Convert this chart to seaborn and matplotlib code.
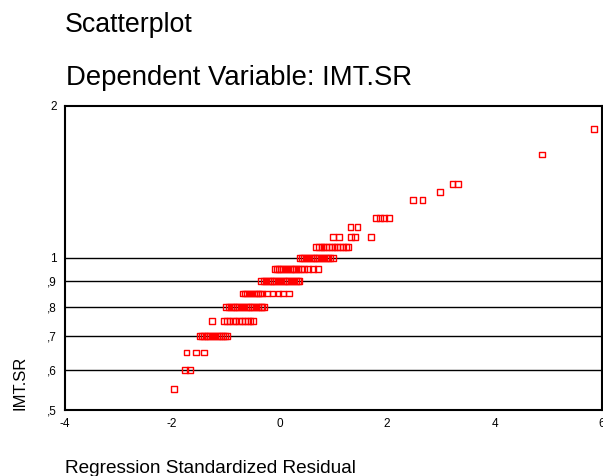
import matplotlib
matplotlib.use("Agg")
import matplotlib.pyplot as plt
import matplotlib.ticker as mticker
import seaborn as sns
import pandas as pd

# ---- data ----
res_055 = [-1.96]
res_060 = [-1.76, -1.67]
res_065 = [-1.73, -1.56, -1.41]
res_070 = [-1.48, -1.44, -1.40, -1.36, -1.33, -1.29, -1.25, -1.21, -1.17, -1.13,
           -1.09, -1.05, -1.01, -0.98]
res_075 = [-1.26, -1.03, -0.98, -0.93, -0.87, -0.82, -0.76, -0.70, -0.64, -0.59,
           -0.54, -0.49]
res_080 = [-0.99, -0.95, -0.91, -0.87, -0.83, -0.79, -0.75, -0.71, -0.67, -0.63,
           -0.59, -0.55, -0.51, -0.47, -0.43, -0.39, -0.35, -0.32, -0.29]
res_085 = [-0.68, -0.64, -0.60, -0.56, -0.52, -0.48, -0.44, -0.40, -0.36, -0.32,
           -0.24, -0.13, -0.02, 0.07, 0.17]
res_090 = [-0.34, -0.30, -0.26, -0.22, -0.18, -0.14, -0.10, -0.06, -0.02, 0.02,
           0.06, 0.10, 0.14, 0.18, 0.22, 0.26, 0.30, 0.34, 0.37]
res_095 = [-0.09, -0.05, -0.01, 0.03, 0.07, 0.11, 0.15, 0.19, 0.23, 0.27,
           0.31, 0.35, 0.40, 0.45, 0.53, 0.62, 0.72]
res_100 = [0.38, 0.42, 0.46, 0.50, 0.54, 0.58, 0.62, 0.66, 0.70, 0.74,
           0.78, 0.82, 0.86, 0.90, 0.94, 0.99]
res_105 = [0.68, 0.73, 0.78, 0.82, 0.87, 0.92, 0.97, 1.02, 1.07, 1.12, 1.18, 1.23, 1.28]
res_110 = [0.99, 1.10, 1.33, 1.41, 1.70]
res_115 = [1.32, 1.45]
res_120 = [1.79, 1.87, 1.95, 2.04]
res_130 = [2.48, 2.66]
res_135 = [2.98]
res_140 = [3.22, 3.32]
res_160 = [4.89]
res_180 = [5.85]

imt_levels = [0.55, 0.60, 0.65, 0.70, 0.75, 0.80, 0.85, 0.90, 0.95, 1.00,
              1.05, 1.10, 1.15, 1.20, 1.30, 1.35, 1.40, 1.60, 1.80]
residual_groups = [res_055, res_060, res_065, res_070, res_075, res_080, res_085,
                   res_090, res_095, res_100, res_105, res_110, res_115, res_120,
                   res_130, res_135, res_140, res_160, res_180]

y_ticks = [0.5, 0.6, 0.7, 0.8, 0.9, 1.0, 2.0]
y_tick_labels = [",5", ",6", ",7", ",8", ",9", "1", "2"]
ref_lines = [0.6, 0.7, 0.8, 0.9, 1.0]
x_ticks = [-4, -2, 0, 2, 4, 6]

title1 = "Scatterplot"
title2 = "Dependent Variable: IMT.SR"
x_label = "Regression Standardized Residual"
y_label = "IMT.SR"

rows = []
for lvl, grp in zip(imt_levels, residual_groups):
    for r in grp:
        rows.append({"residual": r, "imt": lvl})
df = pd.DataFrame(rows)

# ---- style ----
sns.set_style("white")
plt.rcParams["font.family"] = ["Liberation Sans", "DejaVu Sans"]
plt.rcParams["text.color"] = "black"

W, H = 603, 476
fig = plt.figure(figsize=(W / 100, H / 100), dpi=100)
left, right, top, bottom = 64.6, 602.0, 105.5, 410.0
ax = fig.add_axes([left / W, 1 - bottom / H, (right - left) / W, (bottom - top) / H])

ax.set_yscale("log")
for v in ref_lines:
    ax.axhline(v, color="black", lw=1.0, zorder=1)

sns.scatterplot(data=df, x="residual", y="imt", ax=ax, marker="s", s=17,
                facecolor="none", edgecolor="#ff0000", linewidth=1.0, zorder=3)

ax.set_xlim(-4, 6)
ax.set_ylim(0.5, 2.0)
ax.xaxis.set_major_locator(mticker.FixedLocator(x_ticks))
ax.set_xticklabels([str(t) for t in x_ticks])
ax.yaxis.set_major_locator(mticker.FixedLocator(y_ticks))
ax.yaxis.set_minor_locator(mticker.NullLocator())
ax.set_yticklabels(y_tick_labels)

for sp in ax.spines.values():
    sp.set_color("black")
    sp.set_linewidth(1.5)

ax.tick_params(axis="both", which="major", direction="out", length=3.5, width=3,
               color="black", labelsize=8.5, labelcolor="black", pad=2)
ax.set_xlabel("")
ax.set_ylabel("")

fig.text(65 / W, 1 - 32 / H, title1, fontsize=19.3, ha="left", va="baseline", color="black")
fig.text(66 / W, 1 - 85 / H, title2, fontsize=19.8, ha="left", va="baseline", color="black")
fig.text(65 / W, 1 - 473 / H, x_label, fontsize=13.7, ha="left", va="baseline", color="black")
fig.text(20 / W, 1 - 383 / H, y_label, fontsize=12, ha="center", va="center",
         rotation=90, color="black")

fig.savefig("out.png", dpi=100)
